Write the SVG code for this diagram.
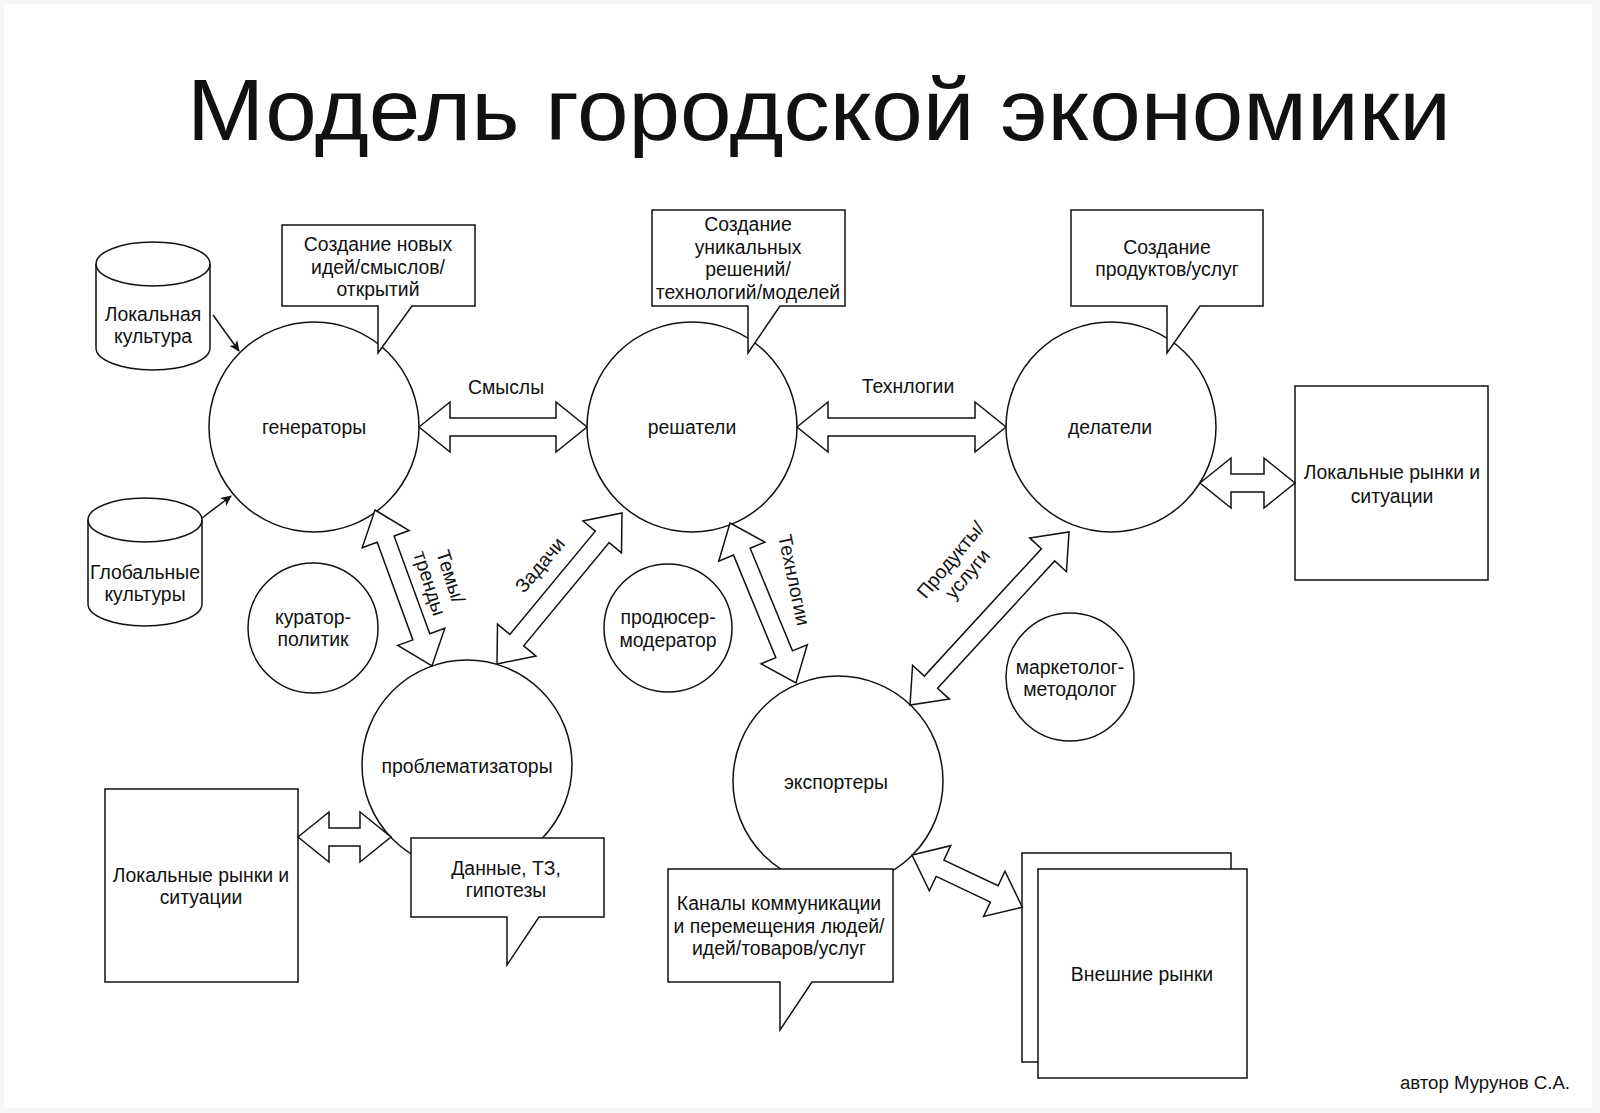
<svg xmlns="http://www.w3.org/2000/svg" width="1600" height="1113" viewBox="0 0 1600 1113">
<defs>
<style>
.node{fill:#fff;stroke:#111;stroke-width:1.5}
.t{font-family:"Liberation Sans",Arial,sans-serif;font-size:19.4px;fill:#111;text-anchor:middle}
.dbl{fill:#fff;stroke:#111;stroke-width:1.5;stroke-linejoin:miter}
.thin{fill:none;stroke:#111;stroke-width:1.5}
</style>
<marker id="ah" markerWidth="12" markerHeight="10" refX="10" refY="5" orient="auto" markerUnits="userSpaceOnUse">
<path d="M0,0 L11,5 L0,10 L3,5 Z" fill="#111"/>
</marker>
</defs>
<rect x="0" y="0" width="1600" height="1113" fill="#f6f6f6"/>
<rect x="4" y="4" width="1588" height="1104" fill="#fff"/>
<text x="187" y="140" font-family="Liberation Sans, Arial, sans-serif" font-size="88" fill="#111" textLength="1264" lengthAdjust="spacingAndGlyphs">Модель городской экономики</text>
<text x="1400" y="1089" font-family="Liberation Sans, Arial, sans-serif" font-size="18" fill="#111" textLength="170" lengthAdjust="spacingAndGlyphs">автор Мурунов С.А.</text>

<g id="local-culture">
<path class="node" d="M96,264 A57,22 0 0 1 210,264 V348 A57,22 0 0 1 96,348 Z"/>
<path class="thin" d="M96,264 A57,22 0 0 0 210,264"/>
<text class="t" x="153" y="321">Локальная</text>
<text class="t" x="153" y="343">культура</text>
</g>
<g id="global-cultures">
<path class="node" d="M88,520 A57,22 0 0 1 202,520 V604 A57,22 0 0 1 88,604 Z"/>
<path class="thin" d="M88,520 A57,22 0 0 0 202,520"/>
<text class="t" x="145" y="579">Глобальные</text>
<text class="t" x="145" y="601">культуры</text>
</g>

<g id="generators">
<circle class="node" cx="314" cy="427" r="105"/>
<text class="t" x="314" y="434">генераторы</text>
</g>
<g id="solvers">
<circle class="node" cx="692" cy="427" r="105"/>
<text class="t" x="692" y="434">решатели</text>
</g>
<g id="doers">
<circle class="node" cx="1111" cy="427" r="105"/>
<text class="t" x="1110" y="434">делатели</text>
</g>
<g id="problematizers">
<circle class="node" cx="467" cy="765" r="105"/>
<text class="t" x="467" y="773">проблематизаторы</text>
</g>
<g id="exporters">
<circle class="node" cx="838" cy="781" r="105"/>
<text class="t" x="836" y="789">экспортеры</text>
</g>
<g id="curator">
<circle class="node" cx="313" cy="628" r="65"/>
<text class="t" x="313" y="624">куратор-</text>
<text class="t" x="313" y="646">политик</text>
</g>
<g id="producer">
<circle class="node" cx="668" cy="628" r="64"/>
<text class="t" x="668" y="624">продюсер-</text>
<text class="t" x="668" y="647">модератор</text>
</g>
<g id="marketer">
<circle class="node" cx="1070" cy="677" r="64"/>
<text class="t" x="1070" y="674">маркетолог-</text>
<text class="t" x="1070" y="696">методолог</text>
</g>

<g id="callout-ideas">
<path class="node" d="M282,225 H475 V306 H412 L378,353 V306 H282 Z"/>
<text class="t" x="378" y="251">Создание новых</text>
<text class="t" x="378" y="274">идей/смыслов/</text>
<text class="t" x="378" y="296">открытий</text>
</g>
<g id="callout-solutions">
<path class="node" d="M652,210 H845 V306 H780 L748,353 V306 H652 Z"/>
<text class="t" x="748" y="231">Создание</text>
<text class="t" x="748" y="254">уникальных</text>
<text class="t" x="748" y="276">решений/</text>
<text class="t" x="748" y="299">технологий/моделей</text>
</g>
<g id="callout-products">
<path class="node" d="M1071,210 H1263 V306 H1200 L1167,353 V306 H1071 Z"/>
<text class="t" x="1167" y="254">Создание</text>
<text class="t" x="1167" y="276">продуктов/услуг</text>
</g>
<g id="callout-data">
<path class="node" d="M411,838 H604 V917 H539 L507,965 V917 H411 Z"/>
<text class="t" x="506" y="875">Данные, ТЗ,</text>
<text class="t" x="506" y="897">гипотезы</text>
</g>
<g id="callout-channels">
<path class="node" d="M668,869 H893 V982 H812 L780,1030 V982 H668 Z"/>
<text class="t" x="779" y="910">Каналы коммуникации</text>
<text class="t" x="779" y="933">и перемещения людей/</text>
<text class="t" x="779" y="955">идей/товаров/услуг</text>
</g>

<g id="local-markets-right">
<rect class="node" x="1295" y="386" width="193" height="194"/>
<text class="t" x="1392" y="479">Локальные рынки и</text>
<text class="t" x="1392" y="503">ситуации</text>
</g>
<g id="local-markets-left">
<rect class="node" x="105" y="789" width="193" height="193"/>
<text class="t" x="201" y="882">Локальные рынки и</text>
<text class="t" x="201" y="904">ситуации</text>
</g>
<g id="external-markets">
<rect class="node" x="1022" y="853" width="209" height="209"/>
<rect class="node" x="1038" y="869" width="209" height="209"/>
<text class="t" x="1142" y="981">Внешние рынки</text>
</g>

<g id="connectors">
<line class="thin" x1="213" y1="315" x2="239" y2="351" marker-end="url(#ah)"/>
<line class="thin" x1="202" y1="518" x2="231" y2="496" marker-end="url(#ah)"/>

<polygon class="dbl" transform="translate(419,427)" points="0,0 31,-25 31,-9 137,-9 137,-25 168,0 137,25 137,9 31,9 31,25"/>
<text class="t" x="506" y="394">Смыслы</text>

<polygon class="dbl" transform="translate(797,427)" points="0,0 31,-25 31,-9 178,-9 178,-25 209,0 178,25 178,9 31,9 31,25"/>
<text class="t" x="908" y="393">Технлогии</text>

<polygon class="dbl" transform="translate(1200,483)" points="0,0 31,-25 31,-9 64,-9 64,-25 95,0 64,25 64,9 31,9 31,25"/>
<polygon class="dbl" transform="translate(298,837)" points="0,0 31,-25 31,-9 62,-9 62,-25 93,0 62,25 62,9 31,9 31,25"/>

<polygon class="dbl" transform="translate(375,510) rotate(69.93)" points="0,0 31,-25 31,-9 135,-9 135,-25 166,0 135,25 135,9 31,9 31,25"/>
<g transform="translate(440,580) rotate(72)">
<text class="t" x="0" y="-4.5">Темы/</text>
<text class="t" x="0" y="17.5">тренды</text>
</g>

<polygon class="dbl" transform="translate(497,664) rotate(-50.38)" points="0,0 31,-25 31,-9 165,-9 165,-25 196,0 165,25 165,9 31,9 31,25"/>
<text class="t" transform="translate(540,565) rotate(-50)" x="0" y="6.5">Задачи</text>

<polygon class="dbl" transform="translate(730,523) rotate(67.58)" points="0,0 31,-25 31,-9 142,-9 142,-25 173,0 142,25 142,9 31,9 31,25"/>
<text class="t" transform="translate(794,580) rotate(78)" x="0" y="6.5">Технлогии</text>

<polygon class="dbl" transform="translate(910,705) rotate(-47.41)" points="0,0 31,-25 31,-9 204,-9 204,-25 235,0 204,25 204,9 31,9 31,25"/>
<g transform="translate(959,567) rotate(-50)">
<text class="t" x="0" y="-4.5">Продукты/</text>
<text class="t" x="0" y="17.5">услуги</text>
</g>

<polygon class="dbl" transform="translate(912,855) rotate(25.3)" points="0,0 31,-25 31,-9 91,-9 91,-25 122,0 91,25 91,9 31,9 31,25"/>
</g>
</svg>
